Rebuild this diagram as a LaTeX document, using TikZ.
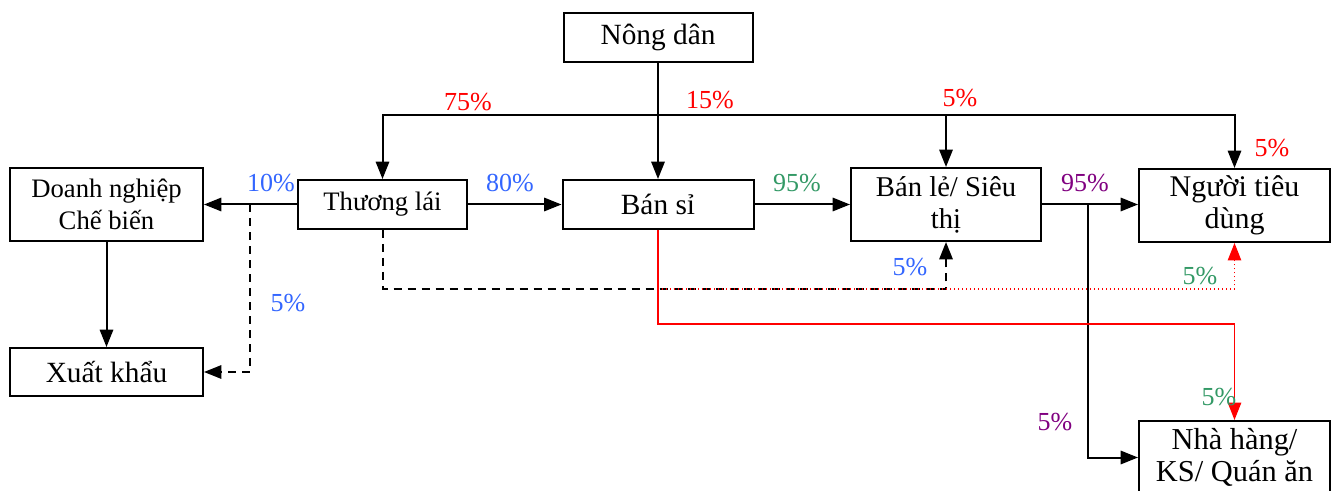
\documentclass[tikz,border=0pt]{standalone}
\usepackage{fontspec}
\setmainfont{Liberation Serif}
\usetikzlibrary{arrows.meta}
\definecolor{pcred}{RGB}{255,0,0}
\definecolor{pcblue}{RGB}{51,102,255}
\definecolor{pcgreen}{RGB}{51,153,102}
\definecolor{pcpurple}{RGB}{128,0,128}
\begin{document}
\begin{tikzpicture}[x=0.75pt,y=-0.75pt,
  box/.style={draw,line width=1.5pt,inner sep=0pt,align=center,
    font=\fontsize{22}{24}\selectfont},
  sbox/.style={box,minimum height=36.75pt},
  tbox/.style={box,minimum height=54.75pt},
  arr/.style={line width=1.5pt,-{Triangle[length=13pt,width=10pt]}},
  link/.style={line width=1.5pt},
  dsh/.style={dash pattern=on 6pt off 4.5pt},
  pct/.style={inner sep=0pt,font=\fontsize{19.5}{22}\selectfont}]
\useasboundingbox (0,0) rectangle (1338,491);

% boxes
\node[sbox,minimum width=141.75pt] (nd) at (658,37.5) {Nông dân};
\node[sbox,minimum width=126.75pt,font=\fontsize{20}{24}\selectfont] (tl) at (382.5,204.5) {Thương lái};
\node[tbox,minimum width=144.75pt,font=\fontsize{20}{24}\selectfont] (dn) at (106.5,204.5) {Doanh nghiệp\\Chế biến};
\node[sbox,minimum width=144.75pt,minimum height=36pt] (xk) at (106.5,372) {Xuất khẩu};
\node[sbox,minimum width=143.25pt] (bs) at (658,204.5) {Bán sỉ};
\node[tbox,minimum width=142.5pt,font=\fontsize{21.5}{24}\selectfont] (bl) at (946,204.5) {Bán lẻ/ Siêu\\thị};
\node[tbox,minimum width=143.25pt,font=\fontsize{22.5}{24}\selectfont] (ntd) at (1234.5,205.5) {Người tiêu\\dùng};
\node[tbox,minimum width=143.25pt,font=\fontsize{22.8}{24}\selectfont] (nh) at (1234.5,457.5) {Nhà hàng/\\KS/ Quán ăn};

% junction points
\coordinate (bus) at (658,115);
\coordinate (xd) at (250,204.5);
\coordinate (br) at (1088,204.5);
\coordinate (rd) at (658,289);
\coordinate (rs) at (658,324);

% farmer to traders, retail and consumers
\draw[link] (nd.south) -- (bus);
\draw[arr] (bus) -- (bs.north);
\draw[arr] (bus) -| (tl.north);
\draw[arr] (bus) -| (bl.north);
\draw[arr] (bus) -| (ntd.north);

% main chain
\draw[arr] (tl.west) -- (dn.east);
\draw[arr] (tl.east) -- (bs.west);
\draw[arr] (bs.east) -- (bl.west);
\draw[arr] (bl.east) -- (br) -- (ntd.west |- br);
\draw[arr] (dn.south) -- (xk.north);
\draw[arr] (br) |- (nh.west);

% dashed side flows
\draw[arr,dsh] (xd) |- (xk.east);
\draw[arr,dsh] (tl.south) |- (rd) -| (bl.south);

% red flows from wholesale
\draw[arr,pcred,line width=1.2pt] (bs.south) -- (rs) -| (nh.north);
\draw[arr,pcred,line width=1pt,dotted] (rd) -| (ntd.south);

% shares
\node[pct,text=pcred] (p75) at (468,102) {75\%};
\node[pct,text=pcred] (p15) at (710,100) {15\%};
\node[pct,text=pcred] (p5a) at (960,98) {5\%};
\node[pct,text=pcred] (p5b) at (1272,148) {5\%};
\node[pct,text=pcblue] (p10) at (271,183) {10\%};
\node[pct,text=pcblue] (p80) at (510,183) {80\%};
\node[pct,text=pcgreen] (p95a) at (797,183) {95\%};
\node[pct,text=pcpurple] (p95b) at (1085,183) {95\%};
\node[pct,text=pcblue] (p5c) at (288,303) {5\%};
\node[pct,text=pcblue] (p5d) at (910,267) {5\%};
\node[pct,text=pcgreen] (p5e) at (1200,276) {5\%};
\node[pct,text=pcgreen] (p5f) at (1219,397) {5\%};
\node[pct,text=pcpurple] (p5g) at (1055,422) {5\%};
\end{tikzpicture}
\end{document}
